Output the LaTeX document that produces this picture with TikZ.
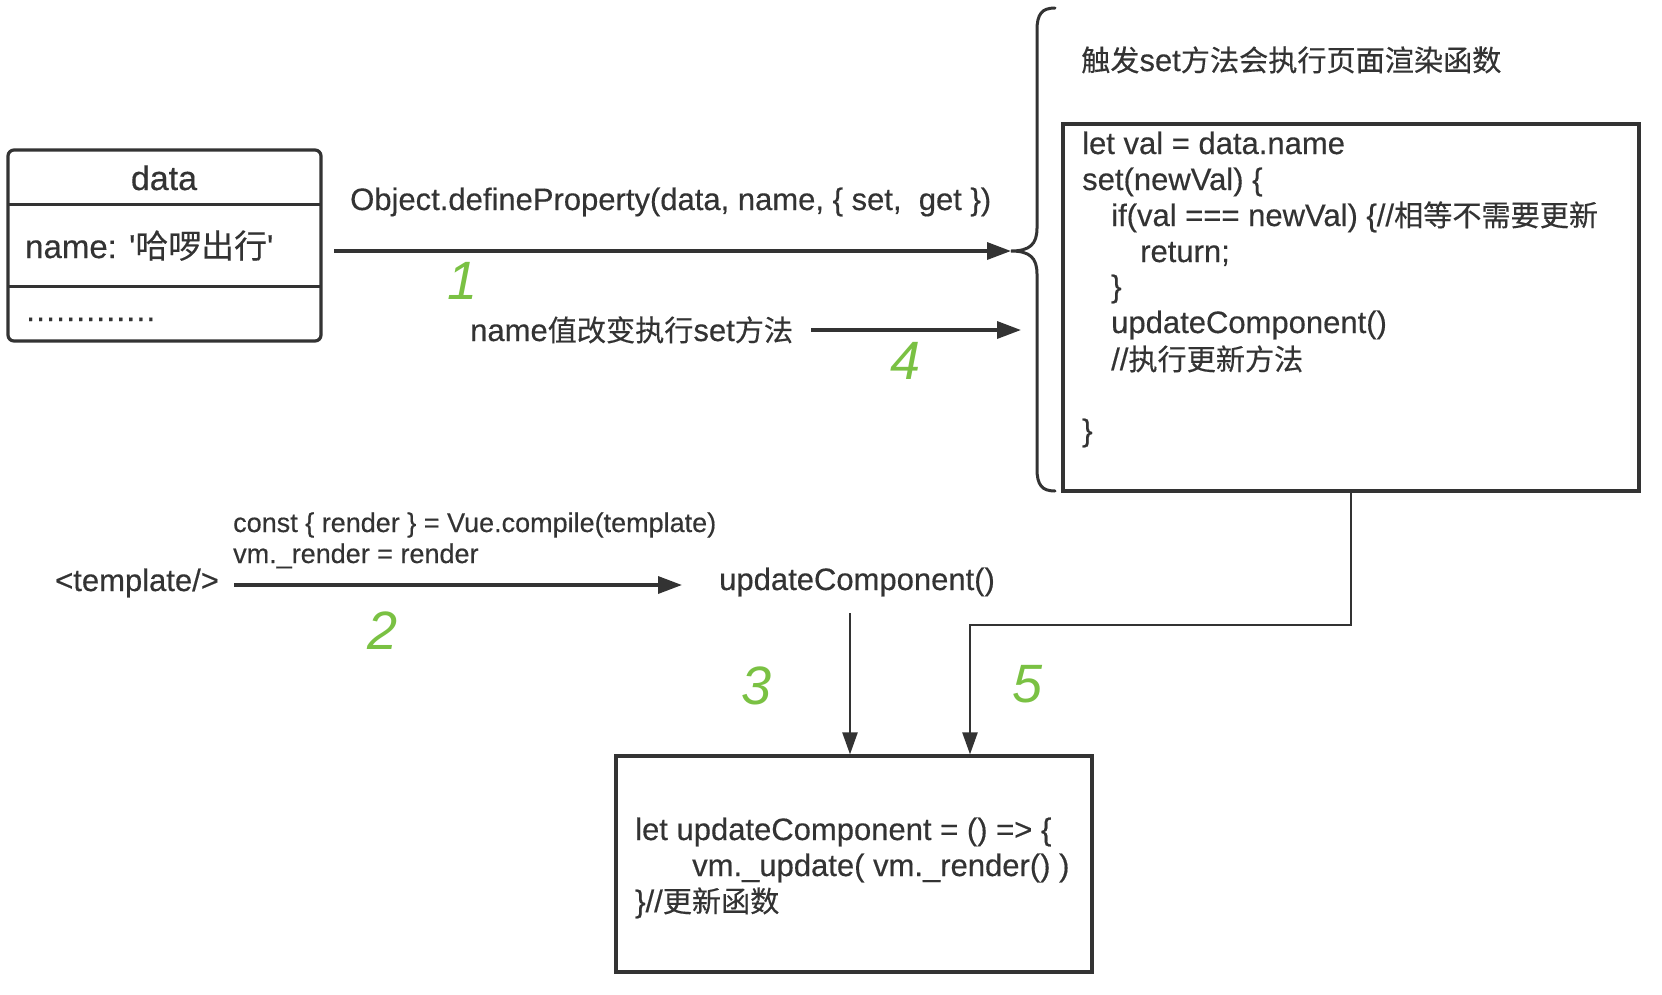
\documentclass[tikz,border=0pt]{standalone}
\usepackage{fontspec}
\setmainfont{Liberation Sans}[Ligatures=TeXOff, FakeBold=0.4]
\newfontfamily\cjk{Noto Sans CJK SC}[Scale=0.94, FakeBold=0.3]
\newfontfamily\numfont{Liberation Sans}[ItalicFont=Liberation Sans Italic]
\usetikzlibrary{arrows.meta}
\definecolor{ink}{HTML}{333333}
\definecolor{numgreen}{HTML}{7AC143}
\tikzset{
  txt/.style={inner sep=0pt, text=ink, font=\fontsize{31}{36}\selectfont, anchor=base west},
  smalltxt/.style={txt, font=\fontsize{27}{32}\selectfont},
  bigtxt/.style={txt, font=\fontsize{33}{36}\selectfont},
  num/.style={inner sep=0pt, text=numgreen, font=\numfont\fontsize{54}{60}\selectfont\itshape, anchor=center},
  arr/.style={draw=ink, line width=3.4pt, -{Triangle[length=24pt,width=17pt]}},
  thinarr/.style={draw=ink, line width=2.4pt, -{Triangle[length=22pt,width=15pt]}},
  box/.style={draw=ink, line width=3.2pt, minimum width=#1, inner sep=0pt},
}
\begin{document}
\begin{tikzpicture}[x=1pt,y=-1pt]
\useasboundingbox (0,0) rectangle (1662,994);

% data box
\node[draw=ink, line width=3.2pt, rounded corners=6pt, minimum width=313pt, minimum height=191pt, inner sep=0pt] (databox) at (164.5,245.5) {};
\draw[ink, line width=3pt] (8,204) -- (321,204);
\draw[ink, line width=3pt] (8,286) -- (321,286);
\node[bigtxt, anchor=base, font=\fontsize{34}{36}\selectfont] (dtitle) at (164,190) {data};
\node[bigtxt] (dname) at (25,258) {name: '{\cjk\fontsize{35}{36}\selectfont 哈啰出行}'};
\node[bigtxt, font=\fontsize{32}{36}\selectfont] (ddots) at (26,321) {\addfontfeature{LetterSpace=3.5}.............};

% top labels
\node[txt] (defprop) at (350,210) {Object.defineProperty(data, name, \{ set,\ \ get \})};
\node[txt] (setlabel) at (470,341) {name{\cjk 值改变执行}set{\cjk 方法}};
\node[txt] (trig) at (1081,71) {{\cjk 触发}set{\cjk 方法会执行页面渲染函数}};

% brace
\coordinate (bracetip) at (1011,251);
\draw[ink, line width=3pt, line cap=round] (1055,8) .. controls (1042,8) and (1037,14) .. (1037,30) -- (1037,228)
  .. controls (1037,244) and (1030,251) .. (bracetip)
  .. controls (1030,251) and (1037,258) .. (1037,274) -- (1037,469)
  .. controls (1037,485) and (1042,491) .. (1055,491);

% right box
\node[box=576pt, minimum height=367pt] (rbox) at (1351,307.5) {};
\node[txt] (r1) at (1082,154) {let val = data.name};
\node[txt] (r2) at (1082,190) {set(newVal) \{};
\node[txt] (r3) at (1111,226) {if(val === newVal) \{//{\cjk 相等不需要更新}};
\node[txt] (r4) at (1140,262) {return;};
\node[txt] (r5) at (1111,297) {\}};
\node[txt] (r6) at (1111,333) {updateComponent()};
\node[txt] (r7) at (1111,370) {//{\cjk 执行更新方法}};
\node[txt] (r8) at (1082,441) {\}};

% arrows 1 and 4
\coordinate (a1s) at (334,251);
\draw[arr] (a1s) -- (bracetip);
\coordinate (a4e) at (1021,330);
\draw[arr] ([xshift=18pt]setlabel.east |- 0,330) -- (a4e);

% template row
\node[txt] (tpl) at (55,591) {<template/>};
\node[smalltxt] (comp) at (233,532) {const \{ render \} = Vue.compile(template)};
\node[smalltxt] (vmr) at (233,563) {vm.\_render = render};
\node[txt] (uc) at (719,590) {updateComponent()};
\coordinate (a2s) at (234,585);
\coordinate (a2e) at (682,585);
\draw[arr] (a2s) -- (a2e);

% bottom box
\node[box=476pt, minimum height=216pt] (ubox) at (854,864) {};
\node[txt] (u1) at (635,840) {let updateComponent = () => \{};
\node[txt] (u2) at (692,876) {vm.\_update( vm.\_render() )};
\node[txt] (u3) at (635,912) {\}//{\cjk 更新函数}};

% arrows 3 and 5
\coordinate (k3) at (850,613);
\draw[thinarr] (k3) -- (k3 |- ubox.north);
\coordinate (k5) at (970,625);
\draw[thinarr] (rbox.south) |- (k5) -- (k5 |- ubox.north);

% green numbers
\node[num] (n1) at (463,281) {1};
\node[num] (n2) at (383,631) {2};
\node[num] (n3) at (757,686) {3};
\node[num] (n4) at (906,361) {4};
\node[num] (n5) at (1028,684) {5};
\end{tikzpicture}
\end{document}
